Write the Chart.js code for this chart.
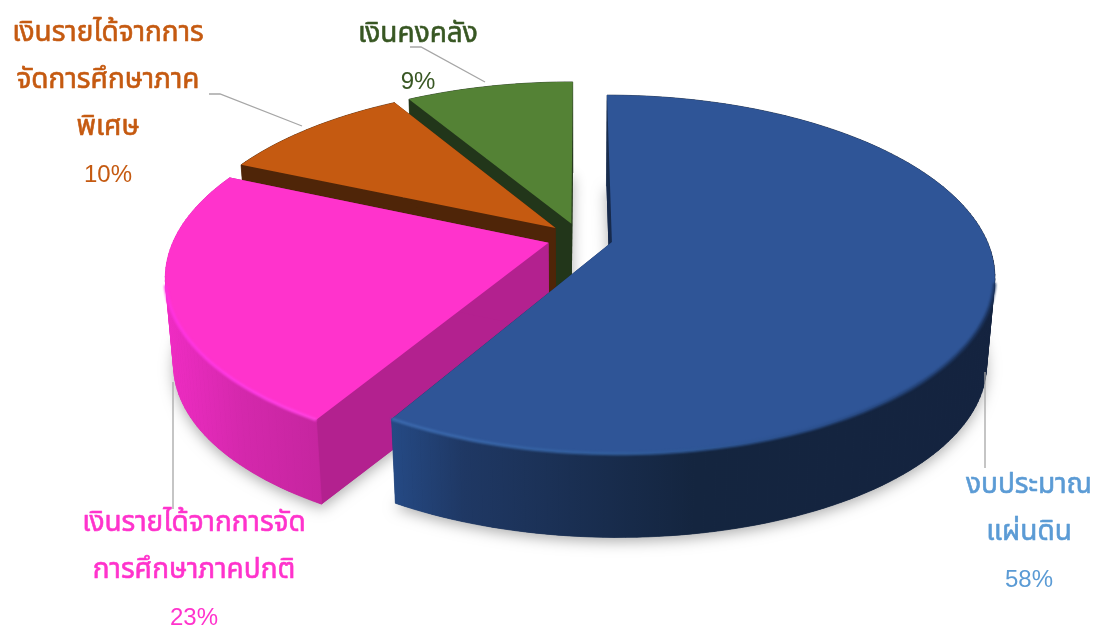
<!DOCTYPE html>
<html lang="th">
<head>
<meta charset="utf-8">
<title>แหล่งเงินงบประมาณ</title>
<script src="https://cdn.jsdelivr.net/npm/chart.js@4/dist/chart.umd.min.js"></script>
<style>
    html, body { margin: 0; padding: 0; background: #fff; }
    canvas { display: block; }
</style>
</head>
<body>
<canvas id="budgetPie" width="1097" height="626"></canvas>
<script>
// Chart data, shares read from the slice edges, labels show them rounded
const categories = ['งบประมาณแผ่นดิน', 'เงินรายได้จากการจัดการศึกษาภาคปกติ', 'เงินรายได้จากการจัดการศึกษาภาคพิเศษ', 'เงินคงคลัง'];
const shares = [58.49, 23.1, 9.86, 8.55];
const labelLines = [
    ['งบประมาณ', 'แผ่นดิน'],
    ['เงินรายได้จากการจัด', 'การศึกษาภาคปกติ'],
    ['เงินรายได้จากการ', 'จัดการศึกษาภาค', 'พิเศษ'],
    ['เงินคงคลัง']
];

// Slice styles
const topColors = ['#2F5597', '#FF33CC', '#C55A11', '#548235'];
const cutColors = ['#172A4C', '#B3218F', '#4F2508', '#22361A'];
const labelColors = ['#5B9BD5', '#FF33CC', '#C55A11', '#385723'];
const wallStops = [
    [[0, '#254A85'], [0.12, '#1F3864'], [0.5, '#14253F'], [1, '#14233F']],
    [[0, '#F02CC4'], [0.5, '#D428AC'], [1, '#C5259F']],
    [[0, '#4F2508'], [1, '#4F2508']],
    [[0, '#22361A'], [1, '#22361A']]
];
const rimStops = [
    [[0, '#3D6BB0'], [0.35, '#33609F'], [0.7, '#2A4E8A'], [1, '#1C3560']],
    [[0, '#FF33E0'], [0.6, '#FF3DE6'], [1, '#FF44E0']],
    [[0, '#C55A11'], [1, '#C55A11']],
    [[0, '#548235'], [1, '#548235']]
];
// label anchor: centre x, first line y, percent line y follows on
const labelAnchors = [
    { x: 1029, y: 487 },
    { x: 194, y: 525 },
    { x: 108, y: 35 },
    { x: 418, y: 36 }
];
const leaderLines = [
    [[985, 372], [985, 468]],
    [[173, 382], [173, 509]],
    [[209, 94], [220, 94], [302, 126]],
    [[410, 47], [421, 47], [485, 82]]
];

const view = {
    cx: 580, cy: 238,       // where the pie centre lands on screen
    radiusX: 374, radiusY: 172,
    tilt: 0.18,             // perspective strength, front bigger than back
    depth: 88,              // height of the extrusion in px
    bottomScale: 0.98,
    explode: 0.088
};

function project(u, v, level) {
    const f = 1 / (1 - view.tilt * v);
    const s = 1 - (1 - view.bottomScale) * level;
    return [
        view.cx + view.radiusX * u * f * s,
        view.cy + view.radiusY * v * f * s + view.depth * level
    ];
}

function tracePath(ctx, points) {
    ctx.beginPath();
    points.forEach((p, i) => (i ? ctx.lineTo(p[0], p[1]) : ctx.moveTo(p[0], p[1])));
    ctx.closePath();
}

function makeGradient(ctx, x0, x1, stops) {
    const g = ctx.createLinearGradient(x0, 0, x1, 0);
    stops.forEach(s => g.addColorStop(s[0], s[1]));
    return g;
}

const pie3d = {
    id: 'pie3d',
    beforeDatasetDraw(chart, args) {
        const ctx = chart.ctx;
        const arcs = args.meta.data;

        // back slices first so the front ones cover them
        for (let i = arcs.length - 1; i >= 0; i--) {
            drawSlice(ctx, arcs[i], i);
        }
        return false;
    },
    afterDraw(chart) {
        const ctx = chart.ctx;
        ctx.save();
        ctx.strokeStyle = '#A6A6A6';
        ctx.lineWidth = 1.3;
        leaderLines.forEach(line => {
            ctx.beginPath();
            line.forEach((p, i) => (i ? ctx.lineTo(p[0], p[1]) : ctx.moveTo(p[0], p[1])));
            ctx.stroke();
        });

        ctx.textAlign = 'center';
        ctx.textBaseline = 'middle';
        ctx.lineJoin = 'round';
        const lineGap = 47;
        labelLines.forEach((lines, i) => {
            const a = labelAnchors[i];
            ctx.fillStyle = labelColors[i];
            ctx.strokeStyle = labelColors[i];
            ctx.lineWidth = 0.6;
            ctx.font = '28px "Noto Sans Thai", "Noto Sans", "DejaVu Sans", sans-serif';
            lines.forEach((text, n) => {
                ctx.fillText(text, a.x, a.y + n * lineGap);
                ctx.strokeText(text, a.x, a.y + n * lineGap);
            });
            ctx.font = '24px "Liberation Sans", Arial, sans-serif';
            ctx.fillText(Math.round(shares[i]) + '%', a.x, a.y - 1 + lines.length * lineGap);
        });
        ctx.restore();
    }
};

function drawSlice(ctx, arc, index) {
    // chart.js angles start at -90deg, turn them into clockwise from the top
    const start = arc.startAngle + Math.PI / 2;
    const end = arc.endAngle + Math.PI / 2;
    const mid = (start + end) / 2;
    const du = view.explode * Math.sin(mid);
    const dv = -view.explode * Math.cos(mid);

    const steps = Math.max(12, Math.round((end - start) * 40));
    const rimAngles = [];
    for (let s = 0; s <= steps; s++) rimAngles.push(start + (end - start) * s / steps);

    const rim = level => rimAngles.map(t => project(du + Math.sin(t), dv - Math.cos(t), level));
    const topRim = rim(0);
    const bottomRim = rim(1);
    const apexTop = project(du, dv, 0);
    const apexBottom = project(du, dv, 1);

    const xs = topRim.concat(bottomRim).map(p => p[0]);
    const left = Math.min(...xs);
    const right = Math.max(...xs);

    // soft shadow under the slice
    ctx.save();
    ctx.shadowColor = 'rgba(0,0,0,0.32)';
    ctx.shadowBlur = 14;
    ctx.shadowOffsetY = 4;
    ctx.fillStyle = cutColors[index];
    tracePath(ctx, [apexBottom].concat(bottomRim));
    ctx.fill();
    ctx.restore();

    // the two cut faces
    ctx.fillStyle = cutColors[index];
    tracePath(ctx, [apexTop, topRim[0], bottomRim[0], apexBottom]);
    ctx.fill();
    tracePath(ctx, [apexTop, topRim[steps], bottomRim[steps], apexBottom]);
    ctx.fill();

    // outer wall, one quad per step: a single polygon folds at the sides and leaves holes
    const wallFill = makeGradient(ctx, left, right, wallStops[index]);
    ctx.fillStyle = wallFill;
    ctx.strokeStyle = wallFill;
    ctx.lineWidth = 0.7;
    for (let s = 0; s < steps; s++) {
        tracePath(ctx, [topRim[s], topRim[s + 1], bottomRim[s + 1], bottomRim[s]]);
        ctx.fill();
        ctx.stroke();
    }

    // top face
    ctx.fillStyle = topColors[index];
    tracePath(ctx, [apexTop].concat(topRim));
    ctx.fill();

    // bevel highlight along the front of the rim only, the wall sits under it
    ctx.save();
    ctx.beginPath();
    let drawing = false;
    rimAngles.forEach((t, s) => {
        if (dv - Math.cos(t) > 0.25) {
            const p = topRim[s];
            if (drawing) ctx.lineTo(p[0], p[1]); else ctx.moveTo(p[0], p[1]);
            drawing = true;
        }
    });
    ctx.strokeStyle = makeGradient(ctx, left, right, rimStops[index]);
    ctx.lineWidth = 3;
    ctx.filter = 'blur(1px)';
    ctx.stroke();
    ctx.restore();
}

new Chart(document.getElementById('budgetPie'), {
    type: 'pie',
    data: {
        labels: categories,
        datasets: [{ data: shares, backgroundColor: topColors, borderWidth: 0 }]
    },
    options: {
        responsive: false,
        animation: false,
        plugins: { legend: { display: false }, tooltip: { enabled: false } }
    },
    plugins: [pie3d]
});
</script>
</body>
</html>
